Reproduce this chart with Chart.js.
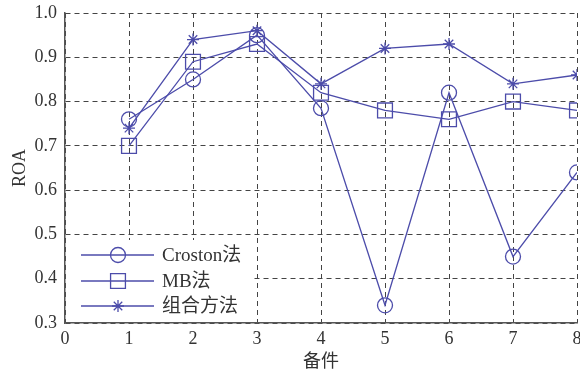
<!DOCTYPE html>
<html>
<head>
<meta charset="utf-8">
<script src="https://cdn.jsdelivr.net/npm/chart.js@4/dist/chart.umd.min.js"></script>
<style>
  html, body { margin: 0; padding: 0; background: #fff; overflow: hidden; }
  #wrap { width: 590px; height: 377px; }
</style>
</head>
<body>
<div id="wrap"><canvas id="myChart"></canvas></div>
<script>
const parts = [1, 2, 3, 4, 5, 6, 7, 8]
const croston = [0.76, 0.85, 0.95, 0.785, 0.34, 0.82, 0.45, 0.64]
const mb = [0.70, 0.89, 0.93, 0.82, 0.78, 0.76, 0.80, 0.78]
const combined = [0.74, 0.94, 0.96, 0.84, 0.92, 0.93, 0.84, 0.86]
const names = ['Croston法', 'MB法', '组合方法']

const color = '#4c4caa'
const font = "'Liberation Serif', 'Noto Sans CJK SC', serif"

function pts(vals) {
    return parts.map((p, i) => ({ x: p, y: vals[i] }))
}

function series(label, vals, style, radius) {
    return {
        label: label,
        data: pts(vals),
        borderColor: color,
        backgroundColor: 'rgba(0,0,0,0)',
        borderWidth: 1.3,
        pointStyle: style,
        pointRadius: radius,
        pointBorderWidth: 1.3,
        pointBorderColor: color,
        pointBackgroundColor: 'rgba(0,0,0,0)',
        tension: 0,
    }
}

// legend drawn inside the plot, lower left, on a white box
const innerLegend = {
    id: 'innerLegend',
    afterDatasetsDraw(chart) {
        const { ctx, chartArea } = chart
        const x0 = chartArea.left
        const yb = chartArea.bottom
        ctx.save()
        ctx.fillStyle = '#fff'
        ctx.fillRect(x0 + 1, yb - 83, 185, 82)
        const rows = [255, 281, 306].map(v => v - 323 + yb)
        chart.data.datasets.forEach((ds, i) => {
            const y = rows[i]
            ctx.strokeStyle = color
            ctx.lineWidth = 1.3
            ctx.beginPath()
            ctx.moveTo(x0 + 16, y)
            ctx.lineTo(x0 + 89, y)
            ctx.stroke()
            ctx.fillStyle = 'rgba(0,0,0,0)'
            Chart.helpers.drawPoint(ctx, {
                pointStyle: ds.pointStyle,
                radius: ds.pointRadius,
                rotation: 0,
                borderWidth: 1.3,
            }, x0 + 53, y)
            ctx.fillStyle = '#333'
            ctx.font = '19px ' + font
            ctx.textBaseline = 'middle'
            ctx.fillText(ds.label, x0 + 97, y + 1)
        })
        ctx.restore()
    }
}

const ctx = document.getElementById('myChart')

const myChart = new Chart(ctx, {
    type: 'line',
    data: {
        datasets: [
            series(names[0], croston, 'circle', 7.5),
            series(names[1], mb, 'rect', 10.5),
            series(names[2], combined, 'star', 6),
        ]
    },
    options: {
        responsive: true,
        maintainAspectRatio: false,
        animation: false,
        layout: { padding: { top: 13, left: 0, right: 0, bottom: 0 } },
        plugins: {
            legend: { display: false },
            tooltip: { enabled: false },
        },
        scales: {
            x: {
                type: 'linear',
                min: 0,
                max: 8,
                afterFit(scale) {
                    scale.height = 54
                    scale.paddingLeft = 0
                    scale.paddingRight = 13
                },
                ticks: { stepSize: 1, color: '#333', font: { family: font, size: 18 }, padding: 5 },
                grid: { color: '#444', lineWidth: 1, drawTicks: false },
                border: { display: true, color: '#555', width: 1.5, dash: [5, 4] },
                title: { display: true, text: '备件', color: '#333', font: { family: font, size: 18 }, padding: { top: 0, bottom: 4 } },
            },
            y: {
                min: 0.3,
                max: 1.0,
                afterFit(scale) {
                    scale.width = 65
                    scale.paddingTop = 0
                    scale.paddingBottom = 0
                },
                ticks: { stepSize: 0.1, color: '#333', font: { family: font, size: 18 }, padding: 8,
                    callback: v => v.toFixed(1) },
                grid: { color: '#444', lineWidth: 1, drawTicks: false },
                border: { display: true, color: '#555', width: 1.5, dash: [5, 4] },
                title: { display: true, text: 'ROA', color: '#333', font: { family: font, size: 18 }, padding: { top: 9, bottom: 2 } },
            }
        },
    },
    plugins: [innerLegend],
})
</script>
</body>
</html>
